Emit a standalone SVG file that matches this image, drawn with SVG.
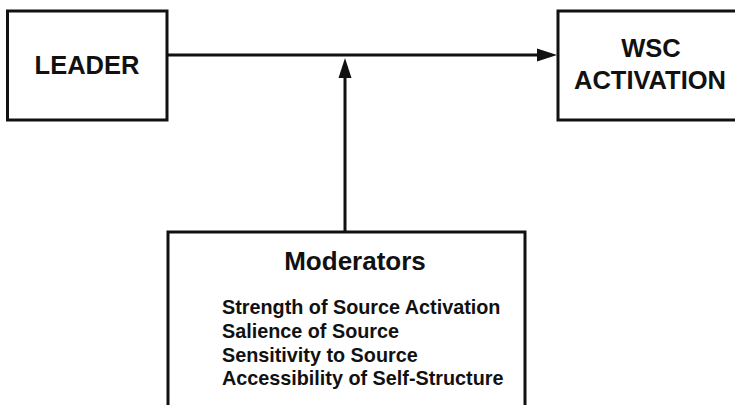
<svg xmlns="http://www.w3.org/2000/svg" width="735" height="405" viewBox="0 0 735 405">
  <style>
    .box { fill: #ffffff; stroke: #111111; stroke-width: 3; }
    .wire { fill: none; stroke: #111111; stroke-width: 3; }
    .head { fill: #111111; stroke: none; }
    .label { font-family: "Liberation Sans", Arial, sans-serif; font-weight: bold; fill: #111111; }
    .big { font-size: 25.5px; }
    .title { font-size: 26px; }
    .item { font-size: 19.8px; }
  </style>
  <rect width="735" height="405" fill="#ffffff"/>

  <g id="connectors">
    <!-- leader to WSC activation -->
    <line class="wire" x1="167" y1="55" x2="540" y2="55"/>
    <polygon class="head" points="557,55 537,48.5 537,61.5"/>
    <!-- moderators acting on the main path -->
    <line class="wire" x1="345" y1="232" x2="345" y2="74"/>
    <polygon class="head" points="345,58 338.5,78 351.5,78"/>
  </g>

  <g id="leader">
    <rect class="box" x="7.5" y="11" width="159.5" height="109"/>
    <text class="label big" x="87" y="74" text-anchor="middle">LEADER</text>
  </g>

  <g id="wsc-activation">
    <rect class="box" x="558" y="11" width="190" height="109"/>
    <text class="label big" x="651" y="57" text-anchor="middle">WSC</text>
    <text class="label big" x="650" y="89" text-anchor="middle">ACTIVATION</text>
  </g>

  <g id="moderators">
    <rect class="box" x="168" y="232" width="357" height="190"/>
    <text class="label title" x="355" y="270" text-anchor="middle">Moderators</text>
    <text class="label item" x="222" y="314">Strength of Source Activation</text>
    <text class="label item" x="222" y="338">Salience of Source</text>
    <text class="label item" x="222" y="362">Sensitivity to Source</text>
    <text class="label item" x="222" y="385">Accessibility of Self-Structure</text>
  </g>
</svg>
